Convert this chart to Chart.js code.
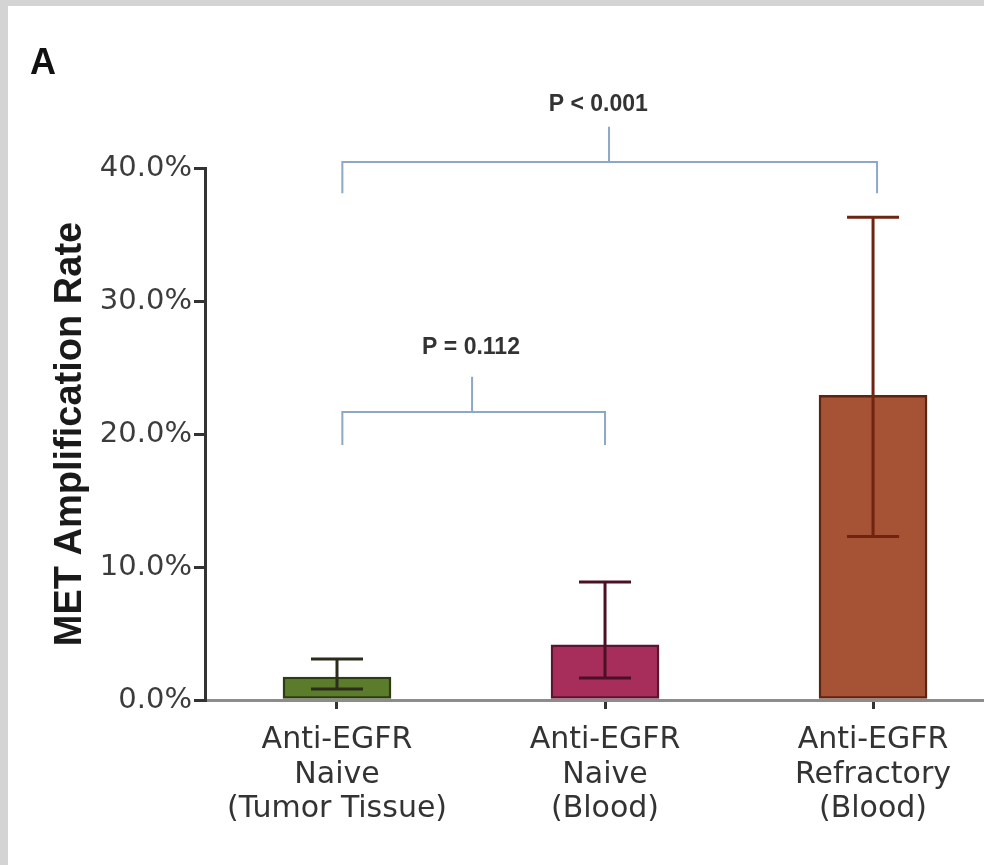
<!DOCTYPE html>
<html>
<head>
<meta charset="utf-8">
<script src="https://cdn.jsdelivr.net/npm/chart.js@4.4.1/dist/chart.umd.min.js"></script>
<style>
  body { margin: 0; background: #fff; }
  #wrap { width: 984px; height: 865px; position: relative; }
  canvas { background: #fff; }
</style>
</head>
<body>
<div id="wrap"><canvas id="metChart"></canvas></div>
<script>
// values (percent)
const categories = [
  ['Anti-EGFR', 'Naive', '(Tumor Tissue)'],
  ['Anti-EGFR', 'Naive', '(Blood)'],
  ['Anti-EGFR', 'Refractory', '(Blood)']
];
const rates = [1.73, 4.14, 22.9];
const errLow = [0.83, 1.65, 12.3];
const errHigh = [3.08, 8.87, 36.3];
const yTicks = [0, 10, 20, 30, 40];

// significance brackets, in axis units (category index / percent)
const bracketLabels = ['P < 0.001', 'P = 0.112'];
const bracketFrom = [0.02, 0.02];
const bracketTo = [2.015, 1.0];
const bracketMid = [1.015, 0.504];
const bracketLevel = [40.45, 21.65];
const bracketLeg = [38.1, 19.17];
const bracketTop = [43.1, 24.3];
const bracketTextX = [0.975, 0.5];
const bracketTextY = [44.8, 26.5];

const barColors = ['#5b7d2b', '#a72d5a', '#a65234'];
const barBorders = ['#2e3c15', '#5c1430', '#5e2412'];
const errColors = ['#2c2c1c', '#4c1026', '#6e2410'];

const frame = {
  id: 'frame',
  beforeDraw(chart) {
    const ctx = chart.ctx;
    ctx.save();
    ctx.fillStyle = '#d4d4d4';
    ctx.fillRect(0, 0, chart.width, 6);
    ctx.fillRect(0, 0, 8, chart.height);
    ctx.restore();
  }
};

const errorBars = {
  id: 'errorBars',
  afterDatasetsDraw(chart) {
    const { ctx, scales: { x, y } } = chart;
    ctx.save();
    ctx.lineWidth = 3;
    rates.forEach((v, i) => {
      const px = x.getPixelForValue(i);
      const lo = y.getPixelForValue(errLow[i]);
      const hi = y.getPixelForValue(errHigh[i]);
      ctx.strokeStyle = errColors[i];
      ctx.beginPath();
      ctx.moveTo(px, lo); ctx.lineTo(px, hi);
      ctx.moveTo(px - 26, hi); ctx.lineTo(px + 26, hi);
      ctx.moveTo(px - 26, lo); ctx.lineTo(px + 26, lo);
      ctx.stroke();
    });
    ctx.restore();
  }
};

const brackets = {
  id: 'brackets',
  afterDraw(chart) {
    const { ctx, scales: { x, y } } = chart;
    ctx.save();
    ctx.strokeStyle = '#8ea7c6';
    ctx.lineWidth = 2;
    bracketLabels.forEach((label, i) => {
      const x1 = x.getPixelForValue(bracketFrom[i]);
      const x2 = x.getPixelForValue(bracketTo[i]);
      const xm = x.getPixelForValue(bracketMid[i]);
      const yl = y.getPixelForValue(bracketLevel[i]);
      const yb = y.getPixelForValue(bracketLeg[i]);
      const yt = y.getPixelForValue(bracketTop[i]);
      ctx.beginPath();
      ctx.moveTo(x1, yb); ctx.lineTo(x1, yl); ctx.lineTo(x2, yl); ctx.lineTo(x2, yb);
      ctx.moveTo(xm, yl); ctx.lineTo(xm, yt);
      ctx.stroke();
      ctx.fillStyle = '#333';
      ctx.font = 'bold 23px "Liberation Sans"';
      ctx.textAlign = 'center';
      ctx.textBaseline = 'middle';
      ctx.fillText(label, x.getPixelForValue(bracketTextX[i]), y.getPixelForValue(bracketTextY[i]));
    });
    // panel letter
    ctx.fillStyle = '#111';
    ctx.font = 'bold 36px "Liberation Sans"';
    ctx.textAlign = 'left';
    ctx.textBaseline = 'alphabetic';
    ctx.fillText('A', 30, 74);
    ctx.restore();
  }
};

new Chart(document.getElementById('metChart'), {
  type: 'bar',
  data: {
    datasets: [{
      data: rates.map((v, i) => ({ x: i, y: v })),
      backgroundColor: barColors,
      borderColor: barBorders,
      borderWidth: 2.5,
      borderSkipped: false,
      barThickness: 108
    }]
  },
  options: {
    responsive: true,
    maintainAspectRatio: false,
    animation: false,
    layout: { padding: { top: 168, left: 8, right: 0, bottom: 0 } },
    plugins: { legend: { display: false }, tooltip: { enabled: false } },
    scales: {
      x: {
        type: 'linear',
        offset: false,
        min: -0.4925,
        max: 2.414,
        afterBuildTicks: s => { s.ticks = categories.map((_, i) => ({ value: i })); },
        afterFit: s => { s.height = 165; },
        ticks: {
          callback: v => categories[v],
          font: { family: 'DejaVu Sans', size: 30, lineHeight: 1.15 },
          color: '#333',
          padding: 14,
          autoSkip: false,
          maxRotation: 0
        },
        grid: { offset: false, drawOnChartArea: false, color: '#333', lineWidth: 3, tickLength: 9 },
        border: { color: '#8c8c8c', width: 3 }
      },
      y: {
        min: 0,
        max: 40,
        afterBuildTicks: s => { s.ticks = yTicks.map(v => ({ value: v })); },
        afterFit: s => { s.width = 197; },
        ticks: {
          callback: v => v.toFixed(1) + '%',
          font: { family: 'DejaVu Sans', size: 29 },
          color: '#3c3c3c',
          padding: 2
        },
        grid: { drawOnChartArea: false, color: '#333', lineWidth: 3, tickLength: 11 },
        border: { color: '#333', width: 3 },
        title: {
          display: true,
          text: 'MET Amplification Rate',
          font: { family: 'Liberation Sans', weight: 'bold', size: 38 },
          color: '#1a1a1a',
          padding: { top: 40, bottom: 0 }
        }
      }
    }
  },
  plugins: [frame, errorBars, brackets]
});
</script>
</body>
</html>
